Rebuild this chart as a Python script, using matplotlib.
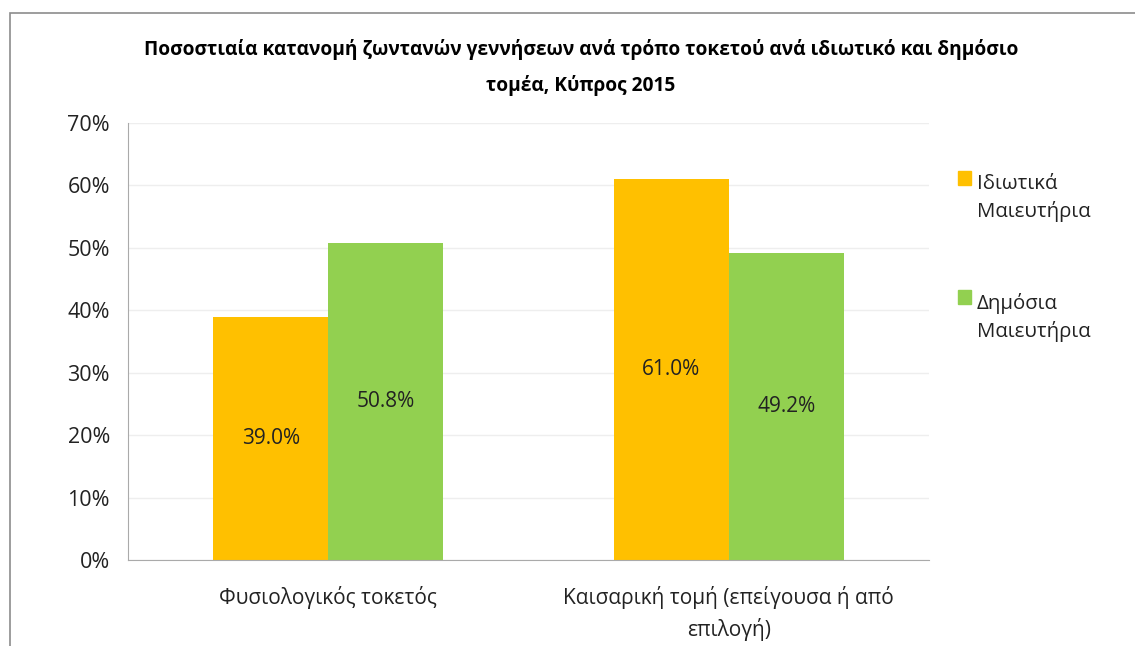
import numpy as np
import matplotlib
matplotlib.use("Agg")
import matplotlib.pyplot as plt
from matplotlib.patches import Rectangle
from matplotlib.ticker import PercentFormatter

plt.rcParams['font.family'] = ['Open Sans', 'DejaVu Sans']

categories = ["Φυσιολογικός τοκετός", "Καισαρική τομή (επείγουσα ή από\nεπιλογή)"]
series_names = ["Ιδιωτικά\nΜαιευτήρια", "Δημόσια\nΜαιευτήρια"]
private_vals = [39.0, 61.0]
public_vals = [50.8, 49.2]
colors = ["#FFC000", "#92D050"]

W, H = 1135, 646
fig = plt.figure(figsize=(W / 100, H / 100), dpi=100)

# outer chart border (only top and left visible in the crop)
fig.patches.append(Rectangle((10 / W, -0.2), 1.2, 1.2 - 13 / H, transform=fig.transFigure,
                             fill=False, edgecolor="#8c8c8c", linewidth=1.2))

ax = fig.add_axes([128 / W, (H - 560) / H, (929 - 128) / W, (560 - 123) / H])

x = np.arange(len(categories))
bw = 0.2875
b1 = ax.bar(x - bw / 2, private_vals, bw, color=colors[0], label=series_names[0])
b2 = ax.bar(x + bw / 2, public_vals, bw, color=colors[1], label=series_names[1])

for bars, vals in [(b1, private_vals), (b2, public_vals)]:
    for b, v in zip(bars, vals):
        ax.text(b.get_x() + b.get_width() / 2, v / 2, "%.1f%%" % v,
                ha="center", va="center", fontsize=15, color="#222222")

ax.set_xlim(-0.5, 1.5)
ax.set_ylim(0, 70)
ax.set_yticks(np.arange(0, 71, 10))
ax.yaxis.set_major_formatter(PercentFormatter(decimals=0))
ax.set_xticks(x)
ax.set_xticklabels(categories, fontsize=15, color="#222222", linespacing=1.5)
ax.tick_params(axis="y", labelsize=15.5, colors="#222222", length=0, pad=13)
ax.tick_params(axis="x", length=0, pad=19)
ax.grid(axis="y", color="#eeeeee", linewidth=1)
ax.set_axisbelow(True)
for s in ["top", "right"]:
    ax.spines[s].set_visible(False)
ax.spines["left"].set_color("#aaaaaa")
ax.spines["bottom"].set_color("#aaaaaa")

fig.text(581 / W, 1 - 50 / H,
         "Ποσοστιαία κατανομή ζωντανών γεννήσεων ανά τρόπο τοκετού ανά ιδιωτικό και δημόσιο",
         ha="center", va="center", fontsize=13.8, fontweight="bold")
fig.text(581 / W, 1 - 85 / H, "τομέα, Κύπρος 2015",
         ha="center", va="center", fontsize=13.8, fontweight="bold")

# legend drawn by hand so the swatch sits beside the first line of each label
leg_top = [171, 290]
for name, col, top in zip(series_names, colors, leg_top):
    fig.patches.append(Rectangle((958 / W, 1 - (top + 14) / H), 13 / W, 14 / H,
                                 transform=fig.transFigure, color=col))
    fig.text(977 / W, 1 - (top + 3) / H, name, ha="left", va="top",
             fontsize=14.7, color="#222222", linespacing=1.45)

fig.savefig("out.png", dpi=100)
